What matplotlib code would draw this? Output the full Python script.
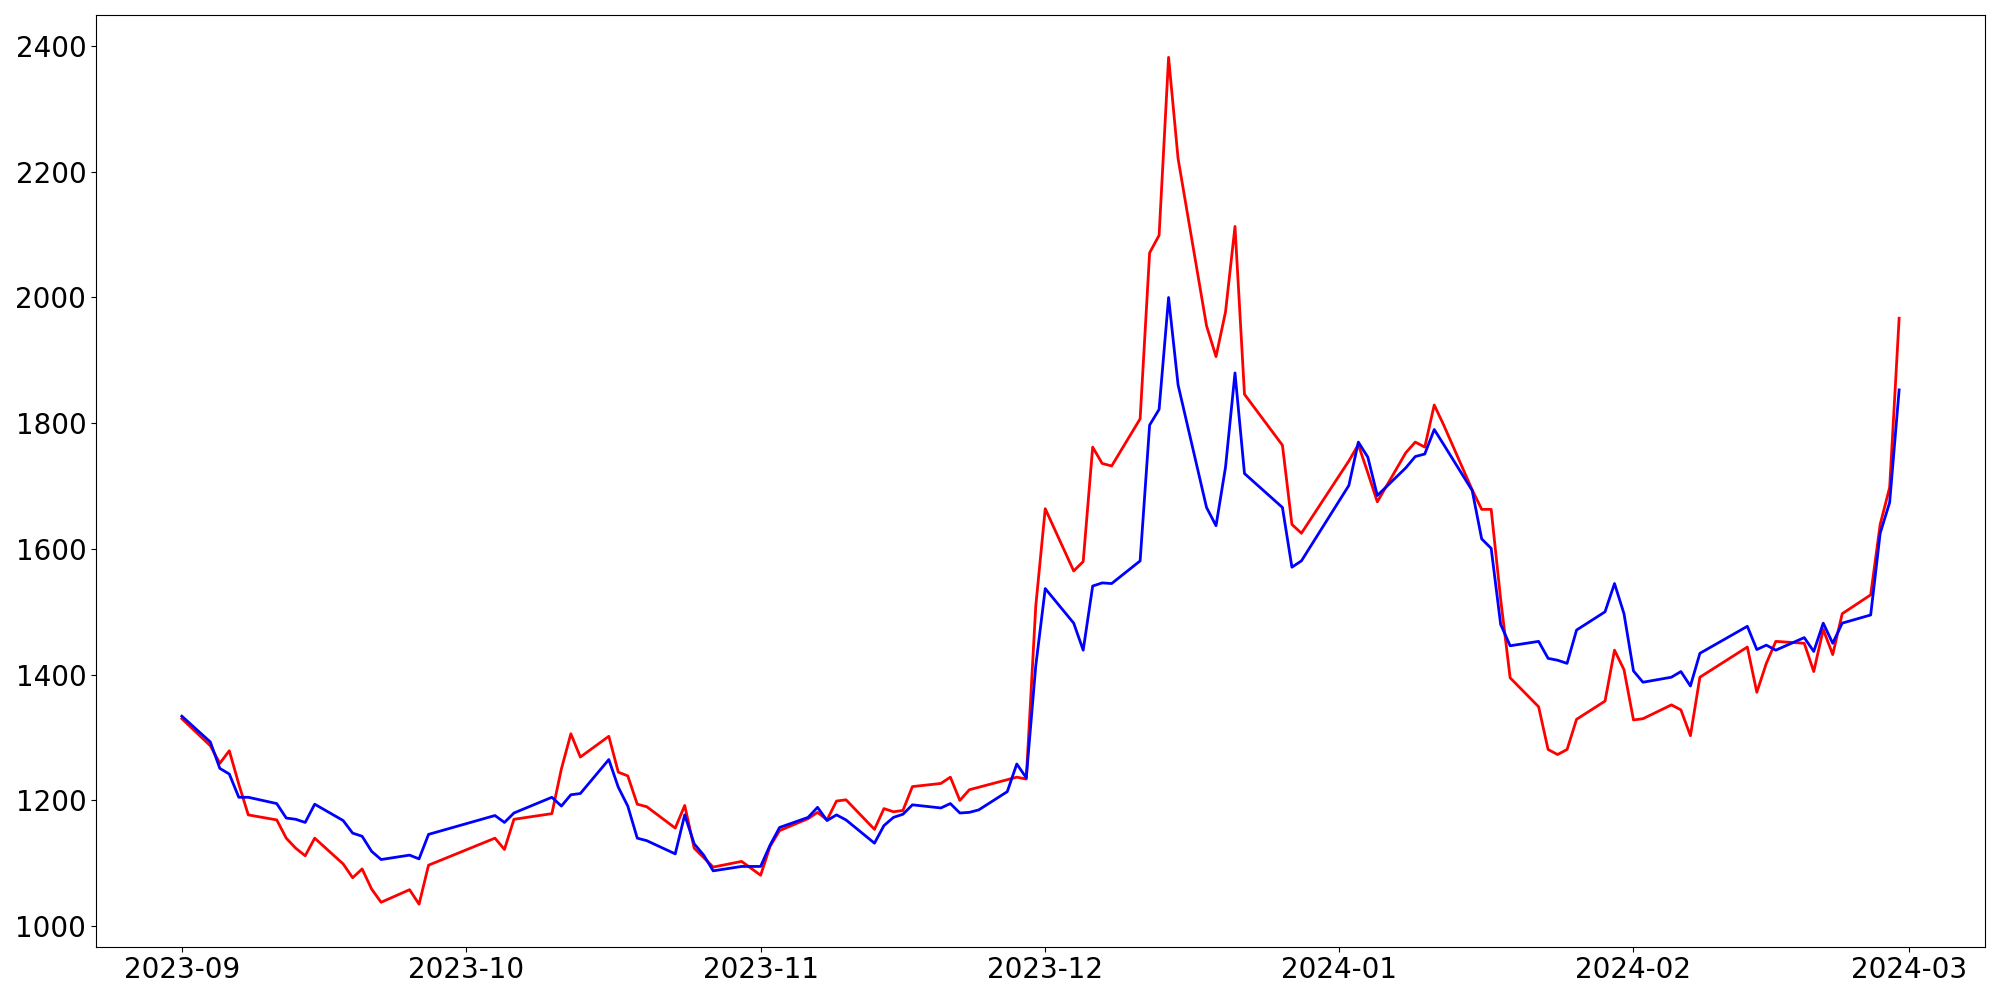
import numpy as np
import pandas as pd
import matplotlib
matplotlib.use('Agg')
import matplotlib.pyplot as plt

# Trading days (KRX calendar), Sep 2023 - Feb 2024
start_date = '2023-09-01'
end_date = '2024-02-29'
holidays = ['2023-09-28', '2023-09-29', '2023-10-02', '2023-10-03', '2023-10-09',
            '2023-12-25', '2023-12-29', '2024-01-01', '2024-02-09', '2024-02-12']

red_sep = [1330, 1287, 1259, 1279, 1226, 1177, 1169, 1140, 1124, 1112, 1140,
           1099, 1077, 1091, 1059, 1038, 1058, 1035, 1097]
red_oct = [1140, 1122, 1170, 1179, 1250, 1306, 1269, 1302, 1245, 1239, 1194,
           1190, 1156, 1192, 1124, 1109, 1094, 1103, 1092]
red_nov = [1081, 1127, 1152, 1171, 1181, 1169, 1199, 1201, 1154, 1187, 1182,
           1184, 1222, 1227, 1237, 1200, 1217, 1221, 1233, 1237, 1234, 1509]
red_dec = [1664, 1565, 1580, 1762, 1736, 1732, 1807, 2071, 2099, 2382, 2221,
           1955, 1906, 1977, 2113, 1846, 1765, 1639, 1625]
red_jan = [1740, 1766, 1721, 1675, 1753, 1770, 1762, 1829, 1797, 1694, 1663,
           1663, 1520, 1395, 1349, 1281, 1273, 1281, 1329, 1358, 1439, 1408]
red_feb = [1328, 1330, 1352, 1344, 1303, 1396, 1444, 1372, 1418, 1453, 1450,
           1405, 1472, 1432, 1497, 1527, 1639, 1698, 1967]

blue_sep = [1334, 1293, 1251, 1242, 1205, 1205, 1195, 1172, 1170, 1165, 1194,
            1168, 1148, 1143, 1119, 1106, 1113, 1107, 1146]
blue_oct = [1176, 1165, 1180, 1205, 1191, 1209, 1211, 1265, 1221, 1191, 1140,
            1136, 1115, 1177, 1131, 1113, 1088, 1095, 1095]
blue_nov = [1095, 1129, 1157, 1173, 1189, 1168, 1177, 1169, 1132, 1160, 1173,
            1178, 1193, 1188, 1195, 1180, 1181, 1185, 1214, 1258, 1236, 1414]
blue_dec = [1537, 1482, 1439, 1541, 1546, 1545, 1581, 1797, 1822, 2000, 1861,
            1666, 1637, 1730, 1880, 1720, 1666, 1571, 1581]
blue_jan = [1701, 1770, 1746, 1685, 1729, 1747, 1751, 1790, 1766, 1693, 1616,
            1601, 1480, 1446, 1453, 1426, 1423, 1418, 1471, 1500, 1545, 1497]
blue_feb = [1406, 1388, 1396, 1405, 1382, 1434, 1477, 1440, 1447, 1439, 1459,
            1437, 1482, 1450, 1482, 1495, 1625, 1674, 1853]

dates = pd.bdate_range(start_date, end_date)
dates = dates[~dates.isin(pd.to_datetime(holidays))]

red = red_sep + red_oct + red_nov + red_dec + red_jan + red_feb
blue = blue_sep + blue_oct + blue_nov + blue_dec + blue_jan + blue_feb

fig, ax = plt.subplots(figsize=(20, 10), dpi=100)
ax.plot(dates, red, color='red', linewidth=2)
ax.plot(dates, blue, color='blue', linewidth=2)
ax.tick_params(labelsize=20)

plt.subplots_adjust(left=0.048, right=0.9925, top=0.985, bottom=0.0535)
plt.savefig('out.png')
